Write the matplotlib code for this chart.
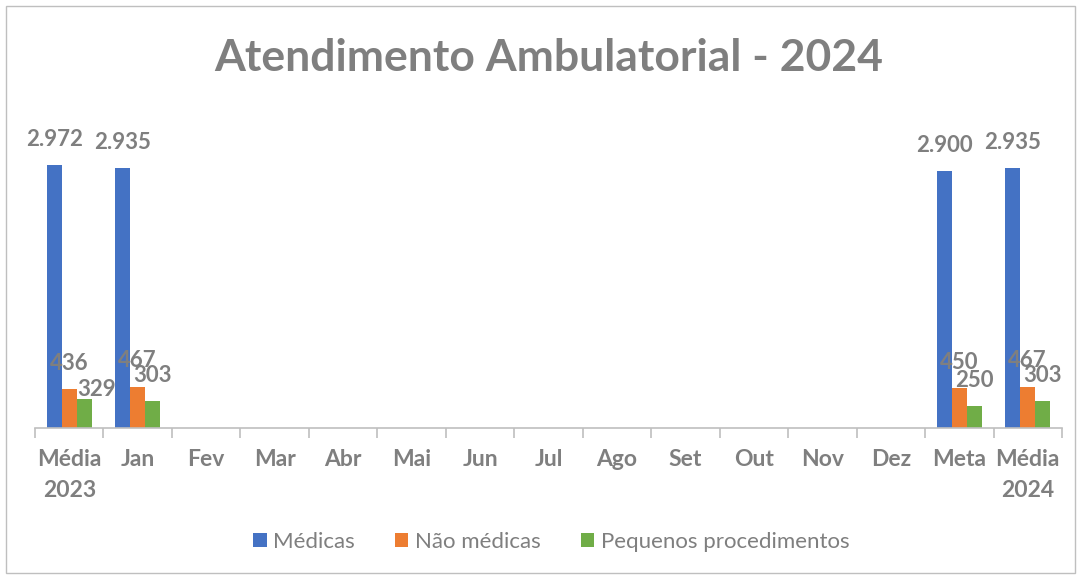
import matplotlib.pyplot as plt
import numpy as np
from matplotlib.patches import Rectangle

plt.rcParams['font.family'] = ['Lato', 'DejaVu Sans']

categories = ['Média\n2023', 'Jan', 'Fev', 'Mar', 'Abr', 'Mai', 'Jun', 'Jul',
              'Ago', 'Set', 'Out', 'Nov', 'Dez', 'Meta', 'Média\n2024']
nan = np.nan
medicas = [2972, 2935, nan, nan, nan, nan, nan, nan, nan, nan, nan, nan, nan, 2900, 2935]
nao_medicas = [436, 467, nan, nan, nan, nan, nan, nan, nan, nan, nan, nan, nan, 450, 467]
pequenos = [329, 303, nan, nan, nan, nan, nan, nan, nan, nan, nan, nan, nan, 250, 303]

series = [('Médicas', medicas, '#4472C4'),
          ('Não médicas', nao_medicas, '#ED7D31'),
          ('Pequenos procedimentos', pequenos, '#70AD47')]

gray = '#7F7F7F'

fig = plt.figure(figsize=(10.81, 5.76), dpi=100)
ax = fig.add_axes([0.0324, 0.257, 0.95, 0.538])

x = np.arange(len(categories))
w = 0.22
# label nudges (series index, category index) -> (dx, dy) in points, like Excel placed them
nudge = {(2, 0): (9, -12)}
for i, (name, vals, col) in enumerate(series):
    pos = x + (i - 1) * w
    ax.bar(pos, vals, width=w, color=col, label=name)
    for j, (p, v) in enumerate(zip(pos, vals)):
        if np.isnan(v):
            continue
        txt = f'{int(v):,}'.replace(',', '.')
        dx, dy = nudge.get((i, j), (0, 0))
        ax.annotate(txt, (p, v), xytext=(dx, 11 + dy), textcoords='offset points',
                    ha='center', va='bottom', fontsize=16, fontweight='bold',
                    color=gray)

ax.set_xlim(-0.5, len(categories) - 0.5)
ax.set_ylim(0, 3500)
ax.set_yticks([])
for s in ['top', 'right', 'left']:
    ax.spines[s].set_visible(False)
ax.spines['bottom'].set_color('#BFBFBF')
ax.spines['bottom'].set_linewidth(1.2)

ax.set_xticks(x)
ax.set_xticklabels(categories, fontsize=16.5, fontweight='bold', color=gray,
                   linespacing=1.6)
ax.tick_params(axis='x', which='major', length=0, pad=15)
ax.set_xticks(np.arange(-0.5, len(categories)), minor=True)
ax.tick_params(axis='x', which='minor', length=7, color='#BFBFBF', width=1.2)

fig.text(0.508, 0.9, 'Atendimento Ambulatorial - 2024', ha='center', va='center',
         fontsize=32, fontweight='bold', color=gray)

fig.legend(loc='center', bbox_to_anchor=(0.51, 0.059), ncol=3, frameon=False,
           fontsize=16, labelcolor=gray, handlelength=0.6, handleheight=0.6,
           handletextpad=0.3, columnspacing=1.8)

fig.patches.append(Rectangle((0.006, 0.005), 0.988, 0.985, transform=fig.transFigure,
                             fill=False, edgecolor='#BFBFBF', linewidth=1))

fig.savefig('out.png', dpi=100)
